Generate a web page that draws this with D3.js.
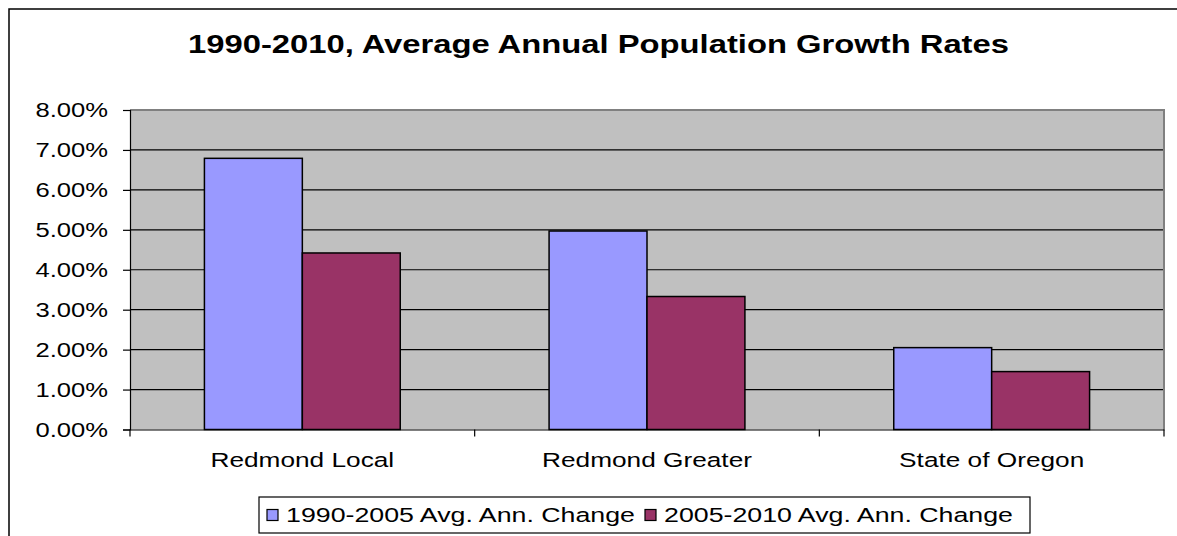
<!DOCTYPE html>
<html>
<head>
<meta charset="utf-8">
<script src="https://cdn.jsdelivr.net/npm/d3@7"></script>
<style>
  html, body { margin: 0; padding: 0; background: #fff; }
  svg { display: block; }
  text { font-family: "Liberation Sans", Arial, sans-serif; fill: #000; }
</style>
</head>
<body>
<svg id="chart" width="1177" height="536"></svg>
<script>
// Average annual population growth rates by area
const categories = ["Redmond Local", "Redmond Greater", "State of Oregon"];
const seriesNames = ["1990-2005 Avg. Ann. Change", "2005-2010 Avg. Ann. Change"];
const rates1990to2005 = [0.0679, 0.0497, 0.0205];
const rates2005to2010 = [0.0442, 0.0333, 0.0145];
const yTicks = [0, 0.01, 0.02, 0.03, 0.04, 0.05, 0.06, 0.07, 0.08];
const seriesColors = ["#9999FF", "#993366"];
const titleText = "1990-2010, Average Annual Population Growth Rates";

const seriesValues = [rates1990to2005, rates2005to2010];
const rows = categories.map((c, i) => ({
  category: c,
  values: seriesNames.map((s, j) => ({ series: s, value: seriesValues[j][i], color: seriesColors[j] }))
}));

const svg = d3.select("#chart");
const stretch = 1.28; // text is drawn horizontally widened
const plot = { left: 130, right: 1164, top: 110, bottom: 429.5 };

// helper: place text with horizontal widening around its anchor
function wideText(sel, x, y) {
  return sel.attr("transform", `translate(${x},${y}) scale(${stretch},1)`);
}

// outer chart frame
svg.append("rect")
  .attr("x", 9).attr("y", 9).attr("width", 1200).attr("height", 600)
  .attr("fill", "#fff").attr("stroke", "#000").attr("stroke-width", 1.5);

// title
wideText(svg.append("text"), 598.5, 53)
  .attr("text-anchor", "middle")
  .attr("font-size", 25.6).attr("font-weight", "bold")
  .text(titleText);

const x0 = d3.scaleBand().domain(categories).range([plot.left, plot.right]).paddingInner(0).paddingOuter(0);
const x1 = d3.scaleBand().domain(seriesNames).range([0, x0.bandwidth()]).paddingInner(0).paddingOuter(0.76);
const y = d3.scaleLinear().domain([0, 0.08]).range([plot.bottom, plot.top]);

// plot background
svg.append("rect")
  .attr("x", plot.left).attr("y", plot.top)
  .attr("width", plot.right - plot.left).attr("height", plot.bottom - plot.top)
  .attr("fill", "#C0C0C0");

// horizontal gridlines
svg.append("g").selectAll("line")
  .data(yTicks.filter(t => t > 0 && t < 0.08))
  .join("line")
  .attr("x1", plot.left).attr("x2", plot.right)
  .attr("y1", d => y(d)).attr("y2", d => y(d))
  .attr("stroke", "#000").attr("stroke-width", 1.2);

// plot frame top and right
svg.append("path")
  .attr("d", `M${plot.left},${plot.top}H${plot.right}V${plot.bottom}`)
  .attr("fill", "none").attr("stroke", "#808080").attr("stroke-width", 2);

// bars
const groups = svg.append("g").selectAll("g")
  .data(rows).join("g")
  .attr("transform", d => `translate(${x0(d.category)},0)`);
groups.selectAll("rect")
  .data(d => d.values).join("rect")
  .attr("x", d => x1(d.series))
  .attr("width", x1.bandwidth())
  .attr("y", d => y(d.value))
  .attr("height", d => y(0) - y(d.value))
  .attr("fill", d => d.color)
  .attr("stroke", "#000").attr("stroke-width", 1.5);

// y axis
const yAxis = svg.append("g")
  .attr("transform", `translate(${plot.left},0)`)
  .call(d3.axisLeft(y).tickValues(yTicks).tickFormat(d3.format(".2%")).tickSize(7).tickPadding(0));
yAxis.select(".domain").attr("stroke", "#000").attr("stroke-width", 1.2);
yAxis.selectAll(".tick line").attr("stroke", "#000").attr("stroke-width", 1.2);
yAxis.selectAll(".tick text").each(function () {
  const t = d3.select(this);
  t.attr("x", null).attr("dy", null).attr("font-size", 20).attr("font-family", "Liberation Sans, Arial, sans-serif")
   .attr("text-anchor", "end").attr("dominant-baseline", "central");
  wideText(t, -22, 0);
});

// x axis
const xAxis = svg.append("g")
  .attr("transform", `translate(0,${plot.bottom})`)
  .call(d3.axisBottom(x0).tickSize(0).tickPadding(0));
xAxis.select(".domain").attr("stroke", "#000").attr("stroke-width", 1.2);
xAxis.selectAll(".tick text").each(function () {
  const t = d3.select(this);
  t.attr("y", null).attr("dy", null).attr("font-size", 20.5).attr("font-family", "Liberation Sans, Arial, sans-serif")
   .attr("text-anchor", "middle");
  wideText(t, 0, 37);
});
// category boundary ticks
const boundaries = categories.map(c => x0(c)).concat([x0(categories[categories.length - 1]) + x0.step()]);
svg.append("g").selectAll("line")
  .data(boundaries).join("line")
  .attr("x1", d => d).attr("x2", d => d)
  .attr("y1", plot.bottom).attr("y2", plot.bottom + 7)
  .attr("stroke", "#000").attr("stroke-width", 1.2);

// legend
const legend = svg.append("g");
legend.append("rect")
  .attr("x", 259).attr("y", 497).attr("width", 771).attr("height", 36)
  .attr("fill", "#fff").attr("stroke", "#000").attr("stroke-width", 1.2);
const legendStarts = [267, 645];
seriesNames.forEach((s, i) => {
  legend.append("rect")
    .attr("x", legendStarts[i]).attr("y", 509.5).attr("width", 11).attr("height", 11)
    .attr("fill", seriesColors[i]).attr("stroke", "#000").attr("stroke-width", 1.2);
  wideText(legend.append("text"), legendStarts[i] + 19, 522)
    .attr("font-size", 20.9)
    .text(s);
});
</script>
</body>
</html>
